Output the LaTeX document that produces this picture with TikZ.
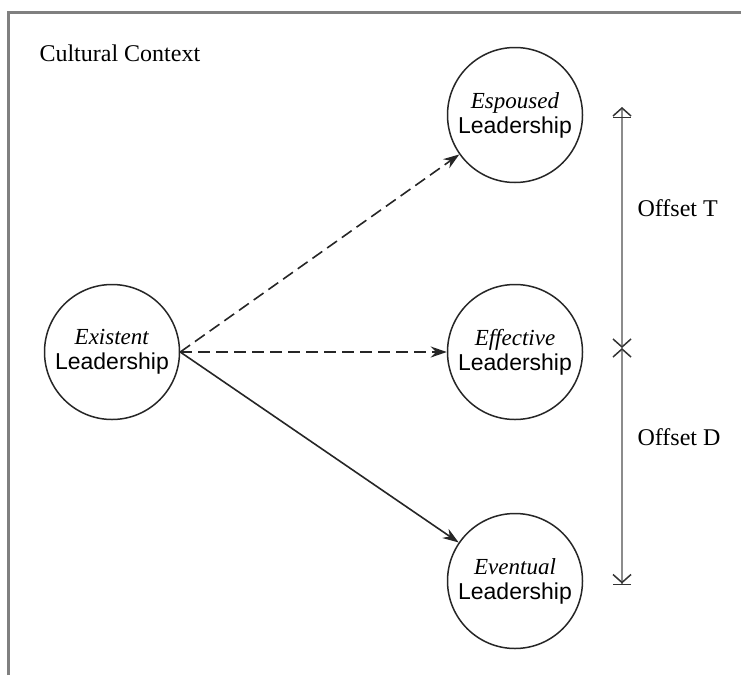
\documentclass[tikz,border=0pt]{standalone}
\usepackage{fontspec}
\setmainfont{Liberation Serif}
\setsansfont{Liberation Sans}
\usetikzlibrary{arrows.meta, automata, positioning}

\begin{document}
\begin{tikzpicture}[x=1pt,y=-1pt,on grid,>={Stealth[length=16pt,width=11pt]},
      every state/.style={draw=black!85,line width=1.5pt,minimum size=135pt,inner sep=0pt,
        align=center,font=\fontsize{23}{25}\selectfont},
      link/.style={->,line width=1.6pt,draw=black!85},
      dashlink/.style={link,dash pattern=on 12pt off 6pt},
      offset/.style={draw=black!45,line width=2pt},
      barb/.tip={Straight Barb[length=8pt,width=18pt,line width=1.5pt,color=black!80]},
      starttick/.tip={Bar[width=18pt,line width=1.5pt,color=black!80,sep=0pt]barb},
      endtick/.tip={barb[sep=0pt]Bar[width=18pt,line width=1.5pt,color=black!80]},
      label/.style={anchor=west,font=\fontsize{24}{26}\selectfont}]
      \useasboundingbox (0,0) rectangle (741,675);
      % frame round the context
      \draw[black!50,line width=3.5pt] (8.5,675) -- (8.5,12.5) -- (741,12.5);
      \node[label] (ctx) at (36,53) {Cultural Context};
      \node[state] (ex) at (112,352) {\textit{Existent}\\\textsf{Leadership}};
      \node[state] (eff) [right=403pt of ex] {\textit{Effective}\\\textsf{Leadership}};
      \node[state] (esp) [above=237pt of eff] {\textit{Espoused}\\\textsf{Leadership}};
      \node[state] (ev)  [below=229pt of eff] {\textit{Eventual}\\\textsf{Leadership}};
      \draw[dashlink] (ex.east) -- (esp);
      \draw[dashlink] (ex.east) -- (eff);
      \draw[link] (ex.east) -- (ev);
      % offsets
      \coordinate (t) at (622,107);
      \coordinate (m) at (622,348);
      \coordinate (b) at (622,585);
      \draw[offset,starttick-barb] (t) -- (m);
      \draw[offset,barb-endtick] (m) -- (b);
      \node[label] (offT) at (634,208) {Offset T};
      \node[label] (offD) at (634,437) {Offset D};
    \end{tikzpicture}
\end{document}
